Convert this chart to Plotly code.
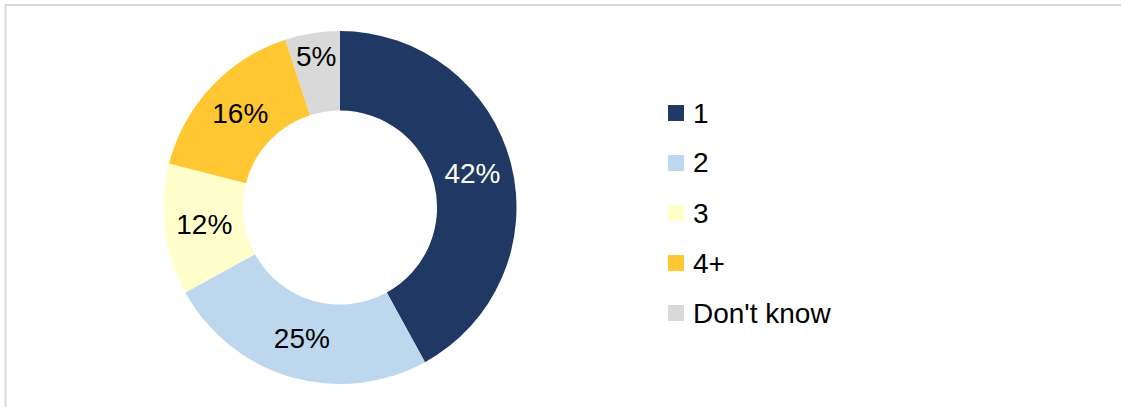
import plotly.graph_objects as go

# Household size breakdown
categories = ["1", "2", "3", "4+", "Don't know"]
shares = [42, 25, 12, 16, 5]
slice_colors = ["#203864", "#BDD7EE", "#FFFFCC", "#FFC832", "#D9D9D9"]
label_colors = ["#FFFFFF", "#000000", "#000000", "#000000", "#000000"]

W, H = 1121, 407
FONT = "Liberation Sans, Arial, sans-serif"

fig = go.Figure(
    go.Pie(
        labels=categories,
        values=shares,
        text=[f"{v}%" for v in shares],
        textinfo="text",
        textposition="inside",
        insidetextorientation="horizontal",
        insidetextfont=dict(family=FONT, size=28, color=label_colors),
        marker=dict(colors=slice_colors, line=dict(width=0)),
        hole=0.55,
        sort=False,
        direction="clockwise",
        rotation=0,
        showlegend=False,
        hoverinfo="label+percent",
        domain=dict(x=[163 / W, 517 / W], y=[(H - 384) / H, (H - 31) / H]),
    )
)

# Legend drawn as swatches + labels, one row per category
shapes = [
    dict(type="rect", xref="paper", yref="paper",
         x0=5.5 / W, x1=1.02, y0=-0.02, y1=1 - 5 / H,
         line=dict(color="#D9D9D9", width=2), fillcolor="rgba(0,0,0,0)")
]
annotations = []
row0, row_gap, sw = 113, 50, 16
for i, (name, col) in enumerate(zip(categories, slice_colors)):
    yc = row0 + i * row_gap
    shapes.append(dict(type="rect", xref="paper", yref="paper",
                       x0=668 / W, x1=(668 + sw) / W,
                       y0=1 - (yc + sw / 2) / H, y1=1 - (yc - sw / 2) / H,
                       fillcolor=col, line=dict(width=0)))
    annotations.append(dict(x=691 / W, y=1 - yc / H, xref="paper", yref="paper",
                            text=name, showarrow=False, xanchor="left", yanchor="middle",
                            font=dict(family=FONT, size=28, color="#000000")))

fig.update_layout(
    width=W, height=H,
    margin=dict(l=0, r=0, t=0, b=0),
    paper_bgcolor="#FFFFFF",
    plot_bgcolor="#FFFFFF",
    uniformtext=dict(minsize=28, mode="show"),
    shapes=shapes,
    annotations=annotations,
)

fig.write_html("out.html")
